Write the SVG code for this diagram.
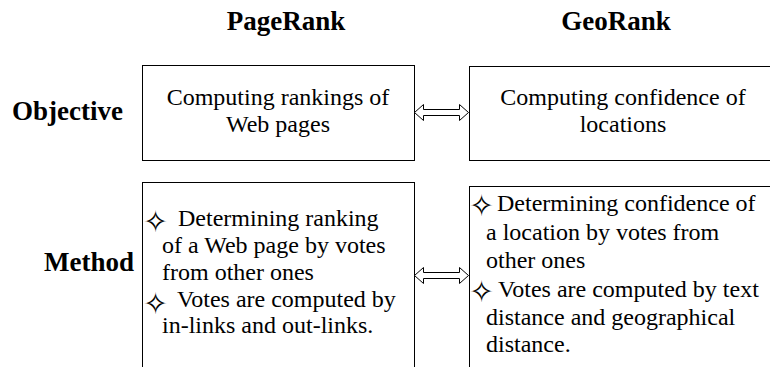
<svg xmlns="http://www.w3.org/2000/svg" width="770" height="367" viewBox="0 0 770 367">
<style>
.h{font-family:"Liberation Serif","Times New Roman",serif;font-weight:bold;font-size:27px;fill:#000}
.t{font-family:"Liberation Serif","Times New Roman",serif;font-size:24px;fill:#000}
.b{font-family:"DejaVu Sans",sans-serif;font-size:30px;fill:#000}
.box{fill:#fff;stroke:#000;stroke-width:1}
.arr{fill:#fff;stroke:#000;stroke-width:1}
</style>
<rect width="770" height="367" fill="#fff"/>
<g id="headers">
<text class="h" x="286" y="30" text-anchor="middle">PageRank</text>
<text class="h" x="616" y="30" text-anchor="middle">GeoRank</text>
<text class="h" x="12" y="120">Objective</text>
<text class="h" x="44" y="271">Method</text>
</g>
<g id="pr-objective">
<rect class="box" x="142.5" y="65.5" width="272" height="95"/>
<text class="t" x="278" y="105" text-anchor="middle">Computing rankings of</text>
<text class="t" x="278" y="132" text-anchor="middle">Web pages</text>
</g>
<g id="gr-objective">
<rect class="box" x="469.5" y="66.5" width="310" height="94"/>
<text class="t" x="623" y="105" text-anchor="middle">Computing confidence of</text>
<text class="t" x="623" y="132" text-anchor="middle">locations</text>
</g>
<g id="pr-method">
<rect class="box" x="142.5" y="182.5" width="272" height="200"/>
<text class="b" x="143" y="232">✧</text>
<text class="t" x="178" y="226">Determining ranking</text>
<text class="t" x="162" y="253">of a Web page by votes</text>
<text class="t" x="162" y="280">from other ones</text>
<text class="b" x="143" y="314">✧</text>
<text class="t" x="177" y="307">Votes are computed by</text>
<text class="t" x="162" y="333">in-links and out-links.</text>
</g>
<g id="gr-method">
<rect class="box" x="469.5" y="186.5" width="310" height="200"/>
<text class="b" x="469" y="216">✧</text>
<text class="t" x="497" y="211">Determining confidence of</text>
<text class="t" x="486" y="240">a location by votes from</text>
<text class="t" x="486" y="268">other ones</text>
<text class="b" x="469" y="302">✧</text>
<text class="t" x="498" y="297">Votes are computed by text</text>
<text class="t" x="486" y="325">distance and geographical</text>
<text class="t" x="486" y="352">distance.</text>
</g>
<g id="connectors">
<path class="arr" d="M414.5,112.5 L423.5,104.5 L423.5,109.5 L459.5,109.5 L459.5,104.5 L468.5,112.5 L459.5,120.5 L459.5,115.5 L423.5,115.5 L423.5,120.5 Z"/>
<path class="arr" d="M414.5,275.5 L423.5,267.5 L423.5,272.5 L459.5,272.5 L459.5,267.5 L468.5,275.5 L459.5,283.5 L459.5,278.5 L423.5,278.5 L423.5,283.5 Z"/>
</g>
</svg>
